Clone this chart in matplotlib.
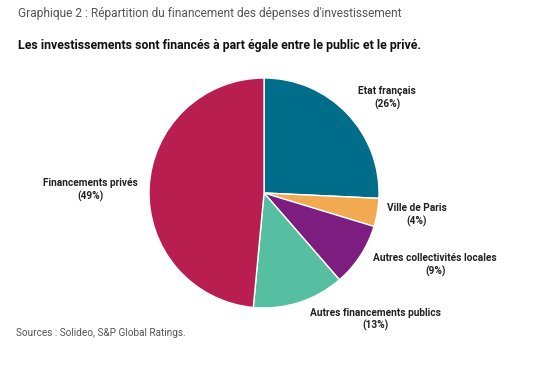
import matplotlib
matplotlib.use("Agg")
import matplotlib.pyplot as plt

plt.rcParams['font.family'] = ['Roboto', 'DejaVu Sans']

# data
labels = ['Etat français', 'Ville de Paris', 'Autres collectivités locales',
          'Autres financements publics', 'Financements privés']
shares = [26, 4, 9, 13, 49]
colors = ['#006d8a', '#f2aa50', '#7c1d7f', '#56bfa1', '#b81e4f']

# label positions (pie radius = 1)
label_pos = [(1.07, 0.83), (1.33, -0.19), (1.49, -0.63), (0.97, -1.10), (-1.51, 0.03)]

fig = plt.figure(figsize=(5.37, 3.66), dpi=100)
ax = fig.add_axes([0.2775, 0.1585, 0.4283, 0.6284])
ax.pie(shares, colors=colors, startangle=90, counterclock=False,
       wedgeprops=dict(edgecolor='white', linewidth=1))
ax.set_xlim(-1, 1)
ax.set_ylim(-1, 1)
ax.set_aspect('equal')

for name, val, (x, y) in zip(labels, shares, label_pos):
    ax.text(x, y, f"{name}\n({val}%)", ha='center', va='center', fontsize=7.3,
            fontweight='bold', color='#222222', linespacing=1.3, clip_on=False)

fig.text(18 / 537, 1 - 14 / 366, "Graphique 2 : Répartition du financement des dépenses d'investissement",
         fontsize=8.55, color='#555555', va='center', ha='left')
fig.text(18 / 537, 1 - 45 / 366, "Les investissements sont financés à part égale entre le public et le privé.",
         fontsize=8.9, fontweight='bold', color='#111111', va='center', ha='left')
fig.text(16 / 537, 1 - 333 / 366, "Sources : Solideo, S&P Global Ratings.",
         fontsize=7.2, color='#555555', va='center', ha='left')

fig.savefig('out.png', dpi=100)
